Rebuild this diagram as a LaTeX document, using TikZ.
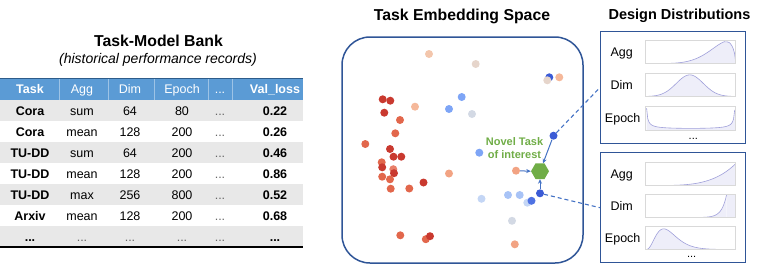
\documentclass[tikz,border=0pt]{standalone}
\usepackage{fontspec}
\setmainfont{Liberation Sans}
\usetikzlibrary{shapes.geometric,arrows.meta}
\definecolor{hdrblue}{HTML}{5B9BD5}
\definecolor{hdrsep}{HTML}{9DC3E6}
\definecolor{tbltop}{HTML}{2E5C8A}
\definecolor{rowgray}{HTML}{E8E8E8}
\definecolor{boxblue}{HTML}{2F5597}
\definecolor{connblue}{HTML}{4472C4}
\definecolor{novgreen}{HTML}{70AD47}
\definecolor{cDR}{HTML}{C9392F}
\definecolor{cRO}{HTML}{E2674C}
\definecolor{cRL}{HTML}{E8806A}
\definecolor{cSA}{HTML}{F2A383}
\definecolor{cSL}{HTML}{F5B89A}
\definecolor{cPE}{HTML}{F3C6AC}
\definecolor{cBE}{HTML}{E6D5CB}
\definecolor{cGB}{HTML}{D3D9E4}
\definecolor{cVL}{HTML}{C4D6F5}
\definecolor{cLB}{HTML}{A8C3F6}
\definecolor{cMB}{HTML}{7EA5F6}
\definecolor{cBM}{HTML}{4F72E3}
\definecolor{cDB}{HTML}{3B5BD6}
\definecolor{curveline}{HTML}{A0A0DA}
\definecolor{curvefill}{HTML}{EEEEF9}
\definecolor{framegray}{HTML}{D9D9D9}
\definecolor{dotgray}{HTML}{666666}
% #1 frame top, #2 f(\x), #3 xmin, #4 xmax
\newcommand\distplot[4]{%
  \fill[curvefill] ({645.7+90*#3},{#1+23.5}) -- plot[domain=#3:#4,samples=80,variable=\x] ({645.7+90*\x},{#1+23.5-23.5*(#2)}) -- ({645.7+90*#4},{#1+23.5}) -- cycle;
  \draw[curveline,line width=0.6pt] plot[domain=#3:#4,samples=80,variable=\x] ({645.7+90*\x},{#1+23.5-23.5*(#2)});
  \draw[framegray,line width=0.5pt] (645.7,#1) rectangle (735.7,{#1+23.5});
}
\begin{document}
\begin{tikzpicture}[x=1pt,y=-1pt,
  cell/.style={anchor=base,inner sep=0pt,font=\fontsize{12.5}{15}\selectfont},
  bcell/.style={cell,font=\fontsize{12.5}{15}\selectfont\bfseries},
  gcell/.style={cell,text=dotgray},
  title/.style={anchor=base,inner sep=0pt,font=\fontsize{15.8}{18}\selectfont\bfseries},
  dot/.style={circle,inner sep=0pt,minimum size=8pt},
  conn/.style={connblue,line width=1pt,-{Stealth[length=4.5pt,width=4pt]}},
  dashconn/.style={connblue,line width=1.1pt,dash pattern=on 4pt off 3pt},
  dbox/.style={draw=boxblue,line width=1.4pt,inner sep=0pt},
  dlabel/.style={anchor=base,inner sep=0pt,font=\fontsize{12.5}{15}\selectfont}]
\useasboundingbox (0,0) rectangle (761,269);

% ---------------- Task-Model Bank ----------------
\node[title] (tbank) at (158.5,46) {Task-Model Bank};
\node[anchor=base,inner sep=0pt,font=\fontsize{14}{16}\selectfont\itshape] (tsub) at (158,63.3) {(historical performance records)};

\fill[hdrblue] (0,78) rectangle (303,100);
\foreach \r in {1,3,5,7} {\fill[rowgray] (0,{79+21*\r}) rectangle (303,{100+21*\r});}
\foreach \s in {59,108,154,208,232} {\draw[hdrsep,line width=0.6pt] (\s,78) -- (\s,100);}
\draw[tbltop,line width=0.8pt] (0,78) -- (303,78);
\draw[black,line width=1.3pt] (0,247) -- (303,247);

\node[bcell,text=white] (h1) at (30,93.5) {Task};
\node[cell,text=white] (h2) at (82,93.5) {Agg};
\node[cell,text=white] (h3) at (130,93.5) {Dim};
\node[cell,text=white] (h4) at (182,93.5) {Epoch};
\node[cell,text=white] (h5) at (220,93.5) {...};
\node[bcell,text=white] (h6) at (275,93.5) {Val\_loss};

\foreach \r/\ta/\ag/\di/\ep/\vl in {1/Cora/sum/64/80/0.22, 2/Cora/mean/128/200/0.26, 3/TU-DD/sum/64/200/0.46, 4/TU-DD/mean/128/200/0.86, 5/TU-DD/max/256/800/0.52, 6/Arxiv/mean/128/200/0.68} {
  \node[bcell] (ta\r) at (30,{94+21*\r}) {\ta};
  \node[cell] (ag\r) at (82,{94+21*\r}) {\ag};
  \node[cell] (di\r) at (130,{94+21*\r}) {\di};
  \node[cell] (ep\r) at (182,{94+21*\r}) {\ep};
  \node[gcell] (el\r) at (220,{94+21*\r}) {...};
  \node[bcell] (vl\r) at (275,{94+21*\r}) {\vl};
}
\node[bcell] (ta7) at (30,241) {...};
\node[gcell] (ag7) at (82,241) {...};
\node[gcell] (di7) at (130,241) {...};
\node[gcell] (ep7) at (182,241) {...};
\node[gcell] (el7) at (220,241) {...};
\node[bcell] (vl7) at (275,241) {...};

% ---------------- Task Embedding Space ----------------
\node[title] (temb) at (462,20) {Task Embedding Space};
\node[draw=boxblue,line width=1.5pt,rounded corners=28pt,minimum width=241pt,minimum height=226pt,inner sep=0pt] (embed) at (462.5,150) {};

\foreach \px/\py/\cc [count=\i] in {429/54/cPE, 475.7/64/cBE, 549.3/77.3/cDB, 547.3/80.3/cBE, 559.3/77.3/cSL,
  382.7/99.3/cDR, 390.3/100.7/cDR, 384.3/112.7/cDR, 415/106.7/cSL, 461.7/97/cMB, 449/109/cMB, 472/114/cGB,
  400/120/cRO, 395.3/133.3/cRO, 365.3/144/cRO, 390/149/cDR, 393.5/156.7/cDR, 401.3/156.7/cDR,
  381.7/162.3/cRO, 382.2/167.3/cDR, 393.3/169.2/cRL, 394/173.2/cDR, 382.2/176.7/cRO, 390/179.3/cRO,
  423.5/182.5/cDR, 449/173.5/cSA, 390.7/188.7/cRO, 409.3/188.5/cRO, 479.3/152.7/cMB,
  527.3/202.7/cVL, 531.5/200.8/cBM, 508/195/cLB, 519.7/195/cLB, 481.5/198.8/cVL, 512/220.8/cGB,
  514.8/244.3/cSA, 400.3/235.3/cRO, 425.8/239.2/cRO, 430/236.2/cDR} {
  \node[dot,fill=\cc] (p\i) at (\px,\py) {};
}
\node[dot,fill=cDB] (nA) at (553.5,135.7) {};
\node[dot,fill=cSA] (nB) at (516,170.7) {};
\node[dot,fill=cDB] (nC) at (540,193.3) {};
\node[regular polygon,regular polygon sides=6,minimum size=18pt,inner sep=0pt,fill=novgreen] (hex) at (540,171.2) {};
\node[font=\fontsize{11}{13}\selectfont\bfseries,text=novgreen,align=center,inner sep=0pt] (novel) at (514.5,148.3) {Novel Task\\of interest};

\draw[conn] (nB) -- (hex.west);
\draw[conn] (nC) -- (hex.south);
\draw[conn] (nA) -- (hex);

% ---------------- Design Distributions ----------------
\node[anchor=base,inner sep=0pt,font=\fontsize{14.5}{17}\selectfont\bfseries] (tdes) at (679.5,19.5) {Design Distributions};
\node[dbox,minimum width=145pt,minimum height=111.6pt] (box1) at (673.2,87.5) {};
\node[dbox,minimum width=145pt,minimum height=110pt] (box2) at (673.2,207.7) {};

\distplot{40}{0.92*\x^5*(1.0001-\x)^0.6/0.1483}{0}{1}
\distplot{73}{0.92*exp(-((\x-0.49)*(\x-0.49))/0.045)}{0}{1}
\distplot{106.5}{0.93*exp(-0.8*ln(\x*(1-\x)/0.0099))}{0.01}{0.99}
\node[dlabel] (l1) at (621.7,56.3) {Agg};
\node[dlabel] (l2) at (621.7,89.3) {Dim};
\node[dlabel] (l3) at (622.7,122.8) {Epoch};
\node[anchor=base,inner sep=0pt,font=\fontsize{11}{13}\selectfont] (e1) at (693.3,139) {...};

\distplot{162}{0.93*\x^4}{0}{1}
\fill[curvefill] (726.7,194) rectangle (735.7,217.5);
\distplot{194}{0.99*exp((\x-0.9)/0.055)}{0}{0.9}
\distplot{226}{0.88*(\x/0.2)^3*exp(3*(1-\x/0.2))}{0}{1}
\node[dlabel] (l4) at (621.7,178.2) {Agg};
\node[dlabel] (l5) at (621.7,210.2) {Dim};
\node[dlabel] (l6) at (622.7,242.2) {Epoch};
\node[anchor=base,inner sep=0pt,font=\fontsize{11}{13}\selectfont] (e2) at (691.7,257.5) {...};

\draw[dashconn] (nA) -- (box1.west);
\draw[dashconn] (nC) -- (box2.west);
\end{tikzpicture}
\end{document}
